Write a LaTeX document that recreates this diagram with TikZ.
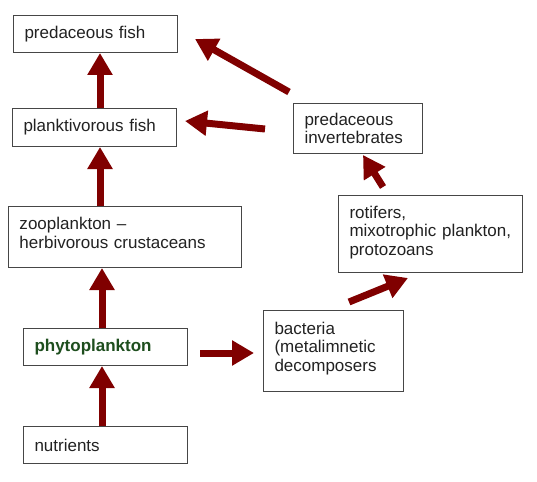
\documentclass[tikz,border=0pt]{standalone}
\usepackage{fontspec}
\setmainfont{Liberation Sans}
\usetikzlibrary{arrows.meta}
\definecolor{arrred}{RGB}{128,0,0}
\definecolor{phygreen}{RGB}{30,78,30}
\definecolor{boxline}{RGB}{70,70,70}
\definecolor{txt}{RGB}{34,34,34}
\begin{document}
\begin{tikzpicture}[x=1pt,y=-1pt,
  fbox/.style={draw=boxline,line width=1pt,fill=white,anchor=north west,
    inner xsep=11pt,inner ysep=0pt,align=left,text=txt,
    font=\fontsize{17}{18.7}\selectfont},
  arr/.style={draw=arrred,line width=7pt,
    -{Triangle[width=24pt,length=22pt]}}]
\useasboundingbox (0,0) rectangle (537,481);
\node[fbox,text width=142pt,minimum height=37pt] (pf) at (13,15) {predaceous fish};
\node[fbox,text width=142pt,minimum height=38pt] (plank) at (12,108) {planktivorous fish};
\node[fbox,text width=211pt,minimum height=61pt,text depth=26.7pt] (zoo) at (8,206) {zooplankton --\\herbivorous crustaceans};
\node[fbox,text width=142pt,minimum height=37pt,text=phygreen,font=\fontsize{17}{19}\selectfont\bfseries] (phyto) at (23,328) {phytoplankton};
\node[fbox,text width=142pt,minimum height=37pt] (nutr) at (23,426) {nutrients};
\node[fbox,text width=118pt,minimum height=81pt,text depth=46pt] (bact) at (263,310) {bacteria\\(metalimnetic\\decomposers};
\node[fbox,text width=162pt,minimum height=77pt,text depth=44pt] (rot) at (338,195) {rotifers,\\mixotrophic~plankton,\\protozoans};
\node[fbox,text width=107pt,minimum height=50pt] (pinv) at (293,103) {predaceous\\invertebrates};
% vertical arrows
\draw[arr] (100,0 |- plank.north) -- (100,0 |- pf.south);
\draw[arr] (100,0 |- zoo.north) -- (100,0 |- plank.south);
\draw[arr] (102,0 |- phyto.north) -- (102,0 |- zoo.south);
\draw[arr] (102,0 |- nutr.north) -- (102,0 |- phyto.south);
% other arrows
\coordinate (phytoOut) at (200,353);
\coordinate (bactIn) at (254,353);
\draw[arr] (phytoOut) -- (bactIn);
\coordinate (bactOut) at (349,302);
\coordinate (rotIn) at (408,278);
\draw[arr] (bactOut) -- (rotIn);
\coordinate (rotOut) at (383,187);
\coordinate (pinvIn) at (363,155);
\draw[arr] (rotOut) -- (pinvIn);
\coordinate (pinvOutA) at (265,129);
\coordinate (plankIn) at (185,121);
\draw[arr] (pinvOutA) -- (plankIn);
\coordinate (pinvOutB) at (289,92);
\coordinate (pfIn) at (195,39);
\draw[arr] (pinvOutB) -- (pfIn);
\end{tikzpicture}
\end{document}
